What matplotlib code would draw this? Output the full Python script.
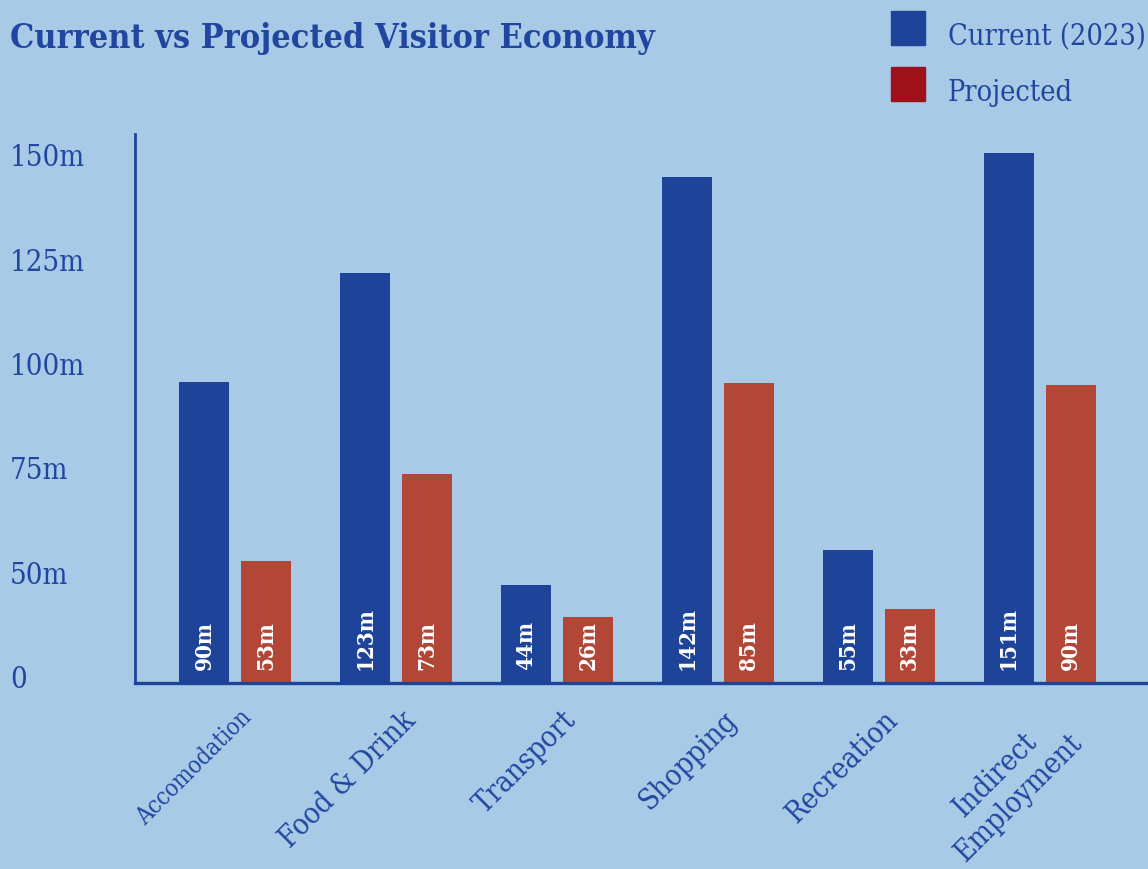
import numpy as np
import matplotlib
matplotlib.use("Agg")
import matplotlib.pyplot as plt
from matplotlib.patches import Rectangle
from matplotlib.transforms import ScaledTranslation

categories = ["Accomodation", "Food & Drink", "Transport",
              "Shopping", "Recreation", "Indirect\nEmployment"]
current_height   = [95.5, 121.5, 46.9, 144.5, 55.3, 150.2]
projected_height = [52.6, 73.4, 39.2, 95.2, 41.2, 94.7]
current_labels   = ["90m", "123m", "44m", "142m", "55m", "151m"]
projected_labels = ["53m", "73m", "26m", "85m", "33m", "90m"]
ytick_values = [25, 50, 75, 100, 125, 150]
ytick_labels = ["0", "50m", "75m", "100m", "125m", "150m"]

# ── style ──────────────────────────────────────────────────────────────────
BG      = "#a8cae6"
BLUE    = "#1e4499"
RED     = "#b34737"
RED_LEG = "#9e111a"
TXT     = "#2046a0"
W, H    = 1148, 870

plt.rcParams["font.family"] = ["DejaVu Serif"]
plt.rcParams["font.stretch"] = "condensed"

fig = plt.figure(figsize=(W / 100, H / 100), dpi=100, facecolor=BG)
ax = fig.add_axes([135 / W, (H - 684) / H, (W - 135) / W, (684 - 135) / H])
ax.set_facecolor(BG)

x = np.arange(len(categories))
bw, off = 0.311, 0.1927
y0 = 23.4
ax.bar(x - off, np.array(current_height) - y0, bw, bottom=y0, color=BLUE, zorder=2)
ax.bar(x + off, np.array(projected_height) - y0, bw, bottom=y0, color=RED, zorder=2)

for xs, labs in [(x - off, current_labels), (x + off, projected_labels)]:
    for xi, lab in zip(xs, labs):
        ax.text(xi, y0 + 3.3, lab, rotation=90, ha="center", va="bottom",
                color="white", fontsize=16, fontweight="bold", zorder=3)

ax.set_xlim(-0.624, 5.672)
ax.set_ylim(y0, 154.8)

for s in ["top", "right"]:
    ax.spines[s].set_visible(False)
ax.spines["left"].set_color(BLUE)
ax.spines["left"].set_linewidth(2)
ax.spines["bottom"].set_color(BLUE)
ax.spines["bottom"].set_linewidth(2.4)

ax.set_yticks(ytick_values)
ax.set_yticklabels(ytick_labels, color=TXT, fontsize=21, ha="left")
ax.tick_params(axis="y", length=0, pad=90)

# category labels, rotated 45°
ax.set_xticks(x)
ax.set_xticklabels([])
ax.tick_params(axis="x", length=0)
shift = ScaledTranslation(5 / 100, -22 / 100, fig.dpi_scale_trans)
for xi, cat in zip(x, categories):
    ax.text(xi, 0, cat, transform=ax.get_xaxis_transform() + shift,
            color=TXT, fontsize=17 if xi == 0 else 21, rotation=45,
            ha="right", va="top", rotation_mode="anchor",
            multialignment="center")

fig.text(10 / W, 1 - 48 / H, "Current vs Projected Visitor Economy",
         color=TXT, fontsize=24.5, fontweight="bold", va="baseline", ha="left")

# legend
for yt, col, lab in [(12, BLUE, "Current (2023)"), (68, RED_LEG, "Projected")]:
    fig.add_artist(Rectangle((891 / W, 1 - (yt + 34) / H), 34 / W, 34 / H,
                             transform=fig.transFigure, color=col))
    fig.text(948 / W, 1 - (yt + 33) / H, lab, color=TXT, fontsize=20.7,
             va="baseline", ha="left")

fig.savefig("out.png", dpi=100, facecolor=BG)
